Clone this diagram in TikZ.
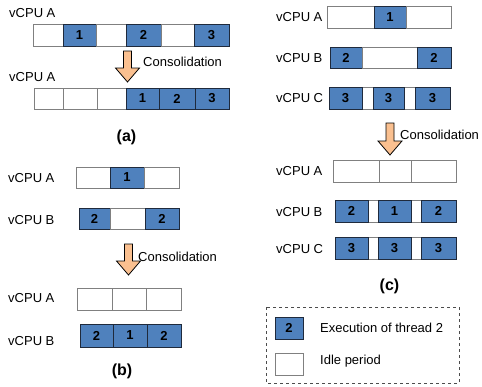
\documentclass[tikz,border=0pt]{standalone}
\usepackage{fontspec}
\setmainfont{Liberation Sans}
\definecolor{busyblue}{HTML}{4F81BD}
\definecolor{busyedge}{HTML}{1F2A3C}
\definecolor{idleedge}{HTML}{808080}
\definecolor{arrowfill}{HTML}{FAC090}
\tikzset{
  cellbase/.style={rectangle, inner sep=0pt, outer sep=0pt, anchor=north west, line width=0.8pt},
  busycell/.style={cellbase, fill=busyblue, draw=busyedge, font=\fontsize{13}{13}\selectfont\bfseries},
  idlecell/.style={cellbase, fill=white, draw=idleedge},
  cpulabel/.style={anchor=west, inner sep=0pt, font=\fontsize{13}{13}\selectfont},
  captext/.style={inner sep=0pt, font=\fontsize{16}{16}\selectfont\bfseries},
  arrowshape/.style={fill=arrowfill, draw=black, line width=0.8pt, line join=miter},
  legendbox/.style={draw=black!70, dashed, line width=0.8pt}
}
% \mycell{name}{style}{x1}{x2}{y1}{y2}{text}
\newcommand{\mycell}[7]{\node[#2, minimum width={#4pt-#3pt}, minimum height={#6pt-#5pt}] (#1) at (#3,#5) {#7};}
% \downarr{cx}{top}{tip}
\newcommand{\downarr}[3]{\draw[arrowshape] ({#1-4},#2) -- ({#1+4},#2) -- ({#1+4},{#3-14}) -- ({#1+12},{#3-14}) -- (#1,#3) -- ({#1-12},{#3-14}) -- ({#1-4},{#3-14}) -- cycle;}
\begin{document}
\begin{tikzpicture}[x=1pt,y=-1pt]
\useasboundingbox (0,0) rectangle (482,386);
% ---------- panel (a)
\node[cpulabel] (la1) at (9,13) {vCPU A};
\mycell{a11}{idlecell}{33}{63}{24}{46}{}
\mycell{a12}{busycell}{63}{96}{24}{46}{1}
\mycell{a13}{idlecell}{96}{126}{24}{46}{}
\mycell{a14}{busycell}{126}{161}{24}{46}{2}
\mycell{a15}{idlecell}{161}{194}{24}{46}{}
\mycell{a16}{busycell}{194}{229}{24}{46}{3}
\downarr{127.5}{51}{82}
\node[cpulabel] (acons) at (143,62) {Consolidation};
\node[cpulabel] (la2) at (9,77) {vCPU A};
\mycell{a21}{idlecell}{34}{63}{88}{109}{}
\mycell{a22}{idlecell}{63}{97}{88}{109}{}
\mycell{a23}{idlecell}{97}{126}{88}{109}{}
\mycell{a24}{busycell}{126}{159}{88}{109}{1}
\mycell{a25}{busycell}{159}{195}{88}{109}{2}
\mycell{a26}{busycell}{195}{229}{88}{109}{3}
\node[captext] (capa) at (126.5,137.5) {(a)};
% ---------- panel (b)
\node[cpulabel] (lb1) at (8,178) {vCPU A};
\mycell{b11}{idlecell}{76}{110}{167}{188}{}
\mycell{b12}{busycell}{110}{144}{167}{188}{1}
\mycell{b13}{idlecell}{144}{179}{167}{188}{}
\node[cpulabel] (lb2) at (8,220) {vCPU B};
\mycell{b21}{busycell}{79}{110}{208}{229}{2}
\mycell{b22}{idlecell}{110}{145}{208}{229}{}
\mycell{b23}{busycell}{145}{179}{208}{229}{2}
\downarr{128.5}{244}{275}
\node[cpulabel] (bcons) at (138,257) {Consolidation};
\node[cpulabel] (lb3) at (8,298) {vCPU A};
\mycell{b31}{idlecell}{77}{112}{288}{310}{}
\mycell{b32}{idlecell}{112}{146}{288}{310}{}
\mycell{b33}{idlecell}{146}{181}{288}{310}{}
\node[cpulabel] (lb4) at (8,341) {vCPU B};
\mycell{b41}{busycell}{80}{113}{324}{347}{2}
\mycell{b42}{busycell}{113}{147}{324}{347}{1}
\mycell{b43}{busycell}{147}{181}{324}{347}{2}
\node[captext] (capb) at (122,371) {(b)};
% ---------- panel (c)
\node[cpulabel] (lc1) at (276,17) {vCPU A};
\mycell{c11}{idlecell}{327}{374}{6}{28}{}
\mycell{c12}{busycell}{374}{406}{6}{28}{1}
\mycell{c13}{idlecell}{406}{451}{6}{28}{}
\node[cpulabel] (lc2) at (276,58) {vCPU B};
\mycell{c21}{busycell}{330}{362}{47}{68}{2}
\mycell{c22}{idlecell}{362}{417}{47}{68}{}
\mycell{c23}{busycell}{417}{451}{47}{68}{2}
\node[cpulabel] (lc3) at (276,98) {vCPU C};
\mycell{c32}{idlecell}{361}{374}{87}{109}{}
\mycell{c34}{idlecell}{403}{416}{87}{109}{}
\mycell{c31}{busycell}{329}{362}{87}{109}{3}
\mycell{c33}{busycell}{373}{404}{87}{109}{3}
\mycell{c35}{busycell}{415}{450}{87}{109}{3}
\downarr{390}{123}{155}
\node[cpulabel] (ccons) at (400,135) {Consolidation};
\node[cpulabel] (lc4) at (276,171) {vCPU A};
\mycell{c41}{idlecell}{333}{379}{160}{182}{}
\mycell{c42}{idlecell}{379}{411}{160}{182}{}
\mycell{c43}{idlecell}{411}{456}{160}{182}{}
\node[cpulabel] (lc5) at (276,212) {vCPU B};
\mycell{c52}{idlecell}{367}{379}{200}{222}{}
\mycell{c54}{idlecell}{410}{422}{200}{222}{}
\mycell{c51}{busycell}{335}{368}{200}{222}{2}
\mycell{c53}{busycell}{378}{411}{200}{222}{1}
\mycell{c55}{busycell}{421}{456}{200}{222}{2}
\node[cpulabel] (lc6) at (276,249) {vCPU C};
\mycell{c62}{idlecell}{367}{379}{237}{259}{}
\mycell{c64}{idlecell}{410}{422}{237}{259}{}
\mycell{c61}{busycell}{335}{368}{237}{259}{3}
\mycell{c63}{busycell}{378}{411}{237}{259}{3}
\mycell{c65}{busycell}{421}{456}{237}{259}{3}
\node[captext] (capc) at (389.5,286.5) {(c)};
% ---------- legend
\draw[legendbox] (266,307) rectangle (459,383);
\mycell{lg1}{busycell}{275}{303}{317}{339}{2}
\node[cpulabel] (lgt1) at (320,328) {Execution of thread 2};
\mycell{lg2}{idlecell}{275}{303}{353}{375}{}
\node[cpulabel] (lgt2) at (320,361) {Idle period};
\end{tikzpicture}
\end{document}
